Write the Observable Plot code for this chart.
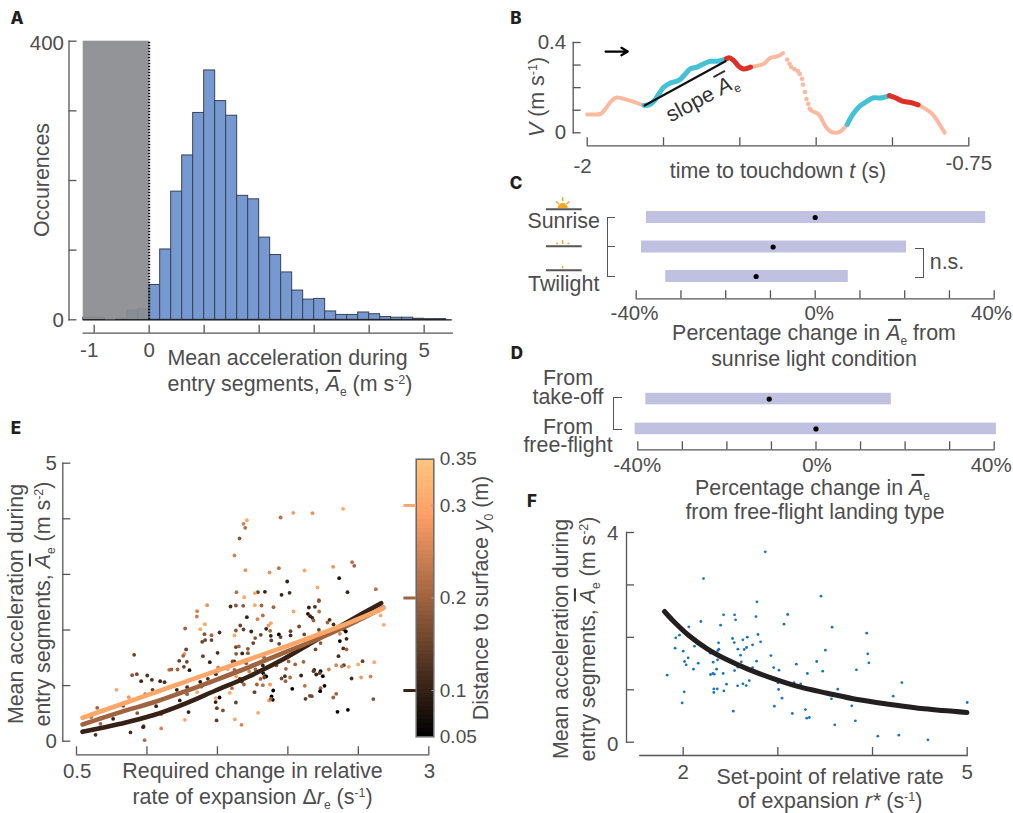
<!DOCTYPE html>
<html><head><meta charset="utf-8">
<script src="https://cdn.jsdelivr.net/npm/d3@7"></script>
<script src="https://cdn.jsdelivr.net/npm/@observablehq/plot@0.6"></script>
<style>
html,body{margin:0;padding:0;background:#fff}
#page{position:relative;width:1013px;height:813px;overflow:hidden;font-family:"Liberation Sans",Arial,sans-serif;color:#4d4d4d}
.l{position:absolute;white-space:nowrap;line-height:.85;font-size:21.4px;transform:translate(-50%,-50%)}
.p{position:absolute;font-family:Inter,sans-serif;font-weight:800;font-size:17px;color:#231f20;line-height:1;transform:translate(-50%,-50%)}
.ab{position:relative;font-style:italic}
.ab::before{content:"";position:absolute;left:2px;right:-1px;top:-2px;height:2px;background:#333}
sub{font-size:12px;line-height:0;vertical-align:-5px;font-style:normal}
sup{font-size:12.5px;line-height:0;vertical-align:7px}
.b{position:absolute;border:1.4px solid #555;box-sizing:border-box}
</style></head><body><div id="page"></div>
<script>
// ---------- Panel A ----------
const aBinStart=[-1.2,-1,-0.8,-0.6,-0.4,-0.2,0,0.2,0.4,0.6,0.8,1,1.2,1.4,1.6,1.8,2,2.2,2.4,2.6,2.8,3,3.2,3.4,3.6,3.8,4,4.2,4.4,4.6,4.8,5,5.2];
const aCounts=[3,3,0,1.5,13,15,50,101,184,236,297,358,314,293,178,173,118,93,68,42,29,30,12,7,7,10.5,8,4,3,3,1.5,1,1];
const aXTicks=[-1,0,1,2,3,4,5], aYTicks=[0,100,200,300,400];
const aXLabels=["-1","0","5"], aYLabels=["0","400"];
// ---------- Panel B ----------
const bSalmon1=[[-2,.081],[-1.978,.081],[-1.956,.084],[-1.94,.106],[-1.924,.136],[-1.907,.155],[-1.891,.154],[-1.869,.146],[-1.847,.137],[-1.814,.121]];
const bCyan1=[[-1.814,.121],[-1.798,.124],[-1.782,.139],[-1.765,.173],[-1.749,.202],[-1.727,.221],[-1.7,.232],[-1.678,.261],[-1.662,.283],[-1.64,.291],[-1.618,.306],[-1.596,.317],[-1.574,.317],[-1.544,.328]];
const bRed1=[[-1.544,.328],[-1.533,.332],[-1.52,.32],[-1.503,.294],[-1.487,.283],[-1.465,.291]];
const bSalmon2=[[-1.465,.291],[-1.443,.297],[-1.421,.306],[-1.4,.332],[-1.378,.338],[-1.358,.353]];
const bDots=[[-1.345,.325],[-1.337,.306],[-1.332,.291],[-1.321,.282],[-1.31,.273],[-1.304,.261],[-1.296,.239],[-1.293,.214],[-1.287,.181],[-1.282,.15],[-1.276,.128],[-1.271,.106]];
const bSalmon3=[[-1.271,.106],[-1.263,.096],[-1.247,.087],[-1.236,.072],[-1.227,.047],[-1.216,.022],[-1.203,.006],[-1.187,0],[-1.17,.007],[-1.148,.037]];
const bCyan2=[[-1.148,.037],[-1.132,.077],[-1.11,.114],[-1.088,.136],[-1.061,.155],[-1.039,.154],[-1.01,.165]];
const bRed2=[[-1.01,.165],[-.99,.155],[-.968,.14],[-.941,.134],[-.916,.124]];
const bSalmon4=[[-.916,.124],[-.892,.106],[-.87,.084],[-.854,.055],[-.837,.018],[-.829,0]];
const bSlope=[[-1.812,.121],[-1.547,.317]];
const bArrow=[{t1:-1.94,v1:.36,t2:-1.867,v2:.36}];
const bXTicks=[-2,-1.75,-1.5,-1.25,-1,-.75], bYTicks=[0,.1,.2,.3,.4];
const bXLabels=["-2","-0.75"], bYLabels=["0","0.4"];
// ---------- Panels C, D ----------
const cConds=["Sunrise","Mid","Twilight"], cLo=[-37.7,-38.8,-33.4], cHi=[38.1,20.4,7.4], cMean=[0,-9.4,-13.2];
const dConds=["From take-off","From free-flight"], dLo=[-38.2,-40.6], dHi=[16.9,40.5], dMean=[-10.5,0];
const pctTicks=[-40,-30,-20,-10,0,10,20,30,40], pctLabels=["-40%","0%","40%"];
// ---------- Panel E : [Δr, mean acceleration, y0] ----------
const eDots=[[1.427,2.447,.27],[1.356,2.339,.25],[1.354,2.243,.24],[1.411,2.105,.3],[1.378,2.015,.3],[1.271,2.027,.2],[1.408,1.925,.18],[1.458,1.907,.2],[1.413,1.818,.15],[1.392,1.788,.15],[1.458,1.818,.15],[1.515,1.955,.12],[1.278,1.65,.15],[1.501,1.59,.12],[.909,1.554,.15],[1.266,1.572,.28],[1.257,1.536,.2],[1.397,1.53,.15],[1.229,1.446,.14],[1.283,1.428,.15],[1.446,1.422,.1],[1.262,1.338,.15],[1.158,1.284,.22],[1.174,1.29,.2],[1.217,1.29,.2],[1.302,1.278,.08],[1.505,1.326,.25],[.895,1.188,.18],[.928,1.206,.16],[1.002,1.182,.13],[.959,1.08,.11],[1.035,1.104,.12],[1.094,1.08,.1],[1.125,1.062,.12],[1.489,1.206,.12],[1.432,1.122,.12],[1.378,1.068,.08],[.784,.924,.3],[1.285,.972,.12],[1.212,.924,.1],[1.04,.924,.14],[.987,.846,.22],[.871,.792,.28],[1.356,.882,.3],[1.387,.984,.14],[1.285,.846,.2],[1.487,.775,.3],[.647,.601,.2],[1.233,.733,.1],[1.487,.703,.1],[.831,.636,.15],[1.065,.63,.1],[1.496,.594,.14],[.931,.505,.18],[1.101,.487,.2],[1.295,.523,.1],[.604,.433,.22],[.76,.403,.1],[1.494,.373,.14],[1.269,.385,.3],[.67,.313,.2],[.976,.271,.16],[.973,.253,.1],[1.101,.229,.25],[.883,.157,.12],[.635,.115,.12],[.983,.019,.22],[.543,.175,.12],
[1.593,2.423,.12],[1.631,2.441,.18],[1.683,2.435,.18],[1.766,2.447,.3],[1.813,2.441,.2],[1.898,2.411,.2],[2.149,2.405,.1],[2.192,2.417,.12],[2.22,2.519,.2],[2.222,2.333,.22],[2.04,2.333,.3],[1.709,2.231,.1],[1.822,2.261,.22],[1.785,2.195,.25],[2.142,2.291,.08],[2.158,2.249,.1],[2.173,2.219,.1],[2.182,2.171,.2],[2.296,2.183,.12],[2.281,2.135,.2],[2.324,2.099,.12],[1.879,2.123,.3],[1.863,2.081,.28],[1.662,2.081,.15],[2.08,2.063,.16],[1.685,2.009,.15],[1.631,1.991,.18],[1.74,1.973,.1],[1.846,2.021,.1],[1.874,1.985,.2],[1.621,1.902,.3],[1.808,1.914,.15],[1.936,1.92,.05],[1.948,1.872,.15],[1.879,1.896,.1],[2.019,1.979,.15],[2.019,1.902,.12],[2.116,1.92,.16],[2.22,2.003,.15],[2.369,1.931,.25],[2.397,2.009,.12],[2.411,1.973,.05],[2.416,1.842,.1],[2.369,1.8,.05],[1.768,1.854,.18],[1.882,1.812,.14],[1.754,1.764,.15],[1.938,1.752,.15],[1.631,1.692,.15],[1.652,1.704,.2],[1.716,1.662,.18],[1.633,1.572,.18],[1.676,1.578,.1],[1.716,1.584,.18],[2.232,1.764,.18],[2.196,1.65,.16],[2.393,1.668,.12],[2.416,1.65,.2],[2.359,1.53,.12],[1.83,1.512,.2],[1.946,1.56,.2],[2.043,1.632,.22],[1.619,1.434,.1],[1.607,1.434,.16],[1.704,1.404,.18],[1.822,1.362,.1],[1.919,1.362,.18],[2.005,1.434,.2],[2.052,1.38,.2],[2.111,1.428,.2],[2.53,1.44,.15],[2.613,1.422,.3],[2.499,1.38,.3],[2.397,1.368,.14],[2.383,1.344,.22],[2.343,1.368,.25],[2.433,1.338,.3],[2.291,1.29,.25],[2.187,1.284,.1],[2.182,1.26,.14],[2.232,1.26,.05],[2.225,1.224,.15],[2.201,1.2,.1],[2.248,1.17,.05],[1.986,1.302,.2],[1.503,1.26,.3],[1.572,1.296,.3],[1.621,1.284,.2],[1.725,1.254,.25],[1.77,1.29,.2],[1.825,1.224,.08],[1.834,1.182,.18],[1.846,1.164,.05],[1.832,1.146,.15],[1.806,1.12,.2],[1.633,1.164,.3],[1.659,1.12,.12],[1.673,1.074,.12],[1.688,1.02,.2],[1.78,1.02,.2],[1.822,1.008,.22],[1.874,1.02,.28],[1.955,1.128,.16],[1.979,1.17,.12],[1.983,1.08,.2],[2.016,1.146,.22],[2.094,1.182,.1],[2.12,.996,.22],[2.52,1.146,.28],[2.587,1.164,.25],[2.452,1.128,.12],[2.26,.996,.05],[2.232,.954,.2],[2.229,.9,.05],[2.343,.852,.2],[2.322,.786,.2],[2.606,.757,.17],[2.031,.942,.02],[1.896,.912,.05],[1.884,.804,.02],[1.893,.744,.05],[1.867,.732,.28],[1.879,.762,.2],[2.125,.762,.14],[2.156,.816,.16],[2.17,.81,.16],[1.763,.882,.15],[1.603,.954,.22],[1.588,.87,.3],[1.631,.696,.15],[1.515,.786,.05],[1.539,.553,.17],[1.789,.511,.3],[2.352,.529,.04],[2.426,.565,.04],[1.624,.391,.3],[1.671,.295,.25],[2.658,2.261,.3],[2.681,2.093,.3],
[1.709,3.975,.3],[1.685,3.909,.25],[1.697,3.837,.22],[1.657,3.646,.18],[1.621,3.34,.25],[1.948,4.023,.22],[2.038,4.107,.28],[2.175,4.101,.27],[2.392,4.179,.3],[1.699,3.076,.27],[1.87,3.034,.27],[1.936,3.112,.22],[2.118,3.07,.3],[2.321,3.136,.27],[2.456,3.22,.22],[2.471,3.154,.2],[1.995,2.872,.1],[2.364,2.932,.08],[2.21,2.764,.3],[1.635,2.68,.22],[1.787,2.68,.15],[1.837,2.686,.1],[1.766,2.662,.3],[1.955,2.632,.1],[2.012,2.668,.12],[2.423,2.68,.1],[2.624,2.734,.22],[1.69,2.59,.3],[2.22,2.536,.18]];
const eFit01=[[.543,.169],[.812,.313],[1.049,.47],[1.285,.69],[1.487,.912],[1.723,1.164],[1.96,1.464],[2.196,1.812],[2.433,2.159],[2.662,2.483]];
const eFit02=[[.543,.301],[.812,.523],[1.049,.7],[1.285,.91],[1.487,1.1],[1.723,1.33],[1.96,1.58],[2.196,1.82],[2.433,2.09],[2.677,2.4]];
const eFit03=[[.543,.421],[.812,.66],[1.049,.87],[1.285,1.08],[1.487,1.26],[1.723,1.47],[1.96,1.68],[2.196,1.9],[2.433,2.13],[2.677,2.39]];
const eXTicks=[.5,1,1.5,2,2.5,3], eYTicks=[0,1,2,3,4,5], eXLabels=["0.5","3"], eYLabels=["0","5"];
const cbLabelVals=[.05,.1,.2,.3,.35], cbLabels=["0.05","0.1","0.2","0.3","0.35"], cbMarks=[.1,.2,.3];
const copperDomain=[.05,.29,.35], copperRange=["#000000","#ff9f65","#ffc77f"];
// ---------- Panel F ----------
const fDots=[[2.867,3.631],[2.215,3.122],[3.456,2.785],[2.779,2.677],[2.427,2.429],[2.543,2.429],[2.554,2.334],[2.769,2.397],[3.104,2.436],[2.187,2.302],[2.395,2.232],[3.065,2.251],[3.573,2.194],[2.06,2.2],[3.939,2.08],[1.961,2.041],[1.922,1.99],[2.79,2.054],[2.677,2.003],[2.522,1.978],[2.631,1.952],[2.54,1.901],[2.374,1.895],[2.818,1.914],[2.733,1.857],[2.12,1.831],[1.915,1.793],[2.67,1.806],[2.645,1.768],[2.578,1.774],[2.377,1.774],[3.502,1.755],[2,1.736],[2.286,1.698],[2.367,1.749],[3.95,1.685],[2.606,1.66],[2.927,1.653],[2.053,1.609],[2.363,1.571],[2.014,1.539],[2.317,1.526],[2.159,1.507],[2.614,1.533],[2.776,1.545],[3.41,1.539],[3.961,1.514],[2.032,1.475],[3.195,1.488],[2.578,1.431],[2.733,1.424],[2.956,1.424],[2.109,1.393],[2.353,1.393],[2.543,1.367],[3.012,1.374],[3.474,1.355],[3.83,1.38],[2.423,1.31],[3.312,1.31],[1.831,1.278],[2.289,1.291],[2.314,1.31],[2.328,1.297],[2.458,1.107],[2.698,1.176],[2.631,1.113],[2.666,1.081],[2.575,1.075],[3.001,1.132],[3.171,1.138],[3.241,1.113],[4.31,1.138],[2.324,1.017],[2.36,1.017],[3.633,1.011],[3.008,1.005],[2.43,.979],[2.011,.96],[2.324,.948],[4.218,.878],[3.044,.839],[3.566,.827],[5,.757],[1.989,.75],[2.963,.687],[3.781,.693],[3.291,.623],[2.529,.591],[3.153,.547],[3.333,.471],[3.305,.458],[3.819,.407],[3.601,.331],[4.056,.114],[4.278,.134],[4.585,.045]];
const fFit=[[1.803,2.493],[1.901,2.302],[2.06,2.035],[2.254,1.781],[2.465,1.571],[2.677,1.399],[2.959,1.208],[3.241,1.049],[3.523,.935],[3.841,.814],[4.193,.719],[4.546,.636],[4.997,.566]];
const fXTicks=[2,3,4,5], fYTicks=[0,1,2,3,4], fXLabels=["2","5"], fYLabels=["0","4"];

// ---------- helpers ----------
const page=document.getElementById("page");
const INK="#555", TXT="#4d4d4d", FONT="Liberation Sans, Arial, sans-serif";
const W=1013,H=813;
function panel({x,y,frame,xt,yt,xl=[],yl=[],marks,color,tick=8,lineInsetL=0,lineInsetB=0}){
  const [L,T,R,B]=frame;
  const m=[...marks];
  if(xt){
    m.push(Plot.frame({anchor:"bottom",stroke:INK,strokeWidth:1.3,insetLeft:lineInsetL}));
    m.push(Plot.axisX(xt,{anchor:"bottom",tickSize:-tick,tickFormat:()=>"",stroke:INK,strokeWidth:1.3,label:null}));
  }
  if(yt){
    m.push(Plot.frame({anchor:"left",stroke:INK,strokeWidth:1.3,insetBottom:lineInsetB}));
    m.push(Plot.axisY(yt,{anchor:"left",tickSize:-tick,tickFormat:()=>"",stroke:INK,strokeWidth:1.3,label:null}));
  }
  xl.forEach(d=>m.push(Plot.text([d.v],{x:v=>v,text:()=>d.t,frameAnchor:"bottom",dy:d.dy,dx:d.dx||0,fontSize:20.5,fill:TXT,lineAnchor:"middle"})));
  yl.forEach(d=>m.push(Plot.text([d.v],{y:v=>v,text:()=>d.t,frameAnchor:"left",dx:d.dx,dy:d.dy||0,fontSize:20.5,fill:TXT,textAnchor:"end",lineAnchor:"middle"})));
  const s=Plot.plot({width:W,height:H,marginLeft:L,marginTop:T,marginRight:W-R,marginBottom:H-B,
    x:{...x,axis:null,label:null},y:{...y,axis:null,label:null},color,
    style:{position:"absolute",left:0,top:0,background:"transparent",overflow:"visible",fontFamily:FONT,pointerEvents:"none",maxWidth:"none"},marks:m});
  page.appendChild(s);
}
function lab(html,cx,cy,rot=0,size=21.4,color){
  const d=document.createElement("div");d.className="l";d.innerHTML=html;
  d.style.left=cx+"px";d.style.top=cy+"px";d.style.fontSize=size+"px";
  if(rot)d.style.transform=`translate(-50%,-50%) rotate(${rot}deg)`;
  if(color)d.style.color=color;
  page.appendChild(d);
  return d;
}
function letter(t,x,y){const d=document.createElement("div");d.className="p";d.textContent=t;d.style.left=x+"px";d.style.top=y+"px";page.appendChild(d);}
function bracket(l,t,w,h,side){const d=document.createElement("div");d.className="b";
  d.style.cssText=`left:${l}px;top:${t}px;width:${w}px;height:${h}px;border-${side}:none`;page.appendChild(d);}
const AE='<span class="ab">A</span><sub>e</sub>';

// ---------- A ----------
panel({
  x:{domain:[-1.2,5.51],range:[82.7,451.7]},y:{domain:[0,400],range:[319.3,40.7]},
  frame:[68.5,40.7,451.7,332.7],xt:aXTicks,yt:aYTicks,lineInsetL:14.2,lineInsetB:13.4,
  xl:[{v:-1,t:aXLabels[0],dx:-5,dy:17},{v:0,t:aXLabels[1],dy:17},{v:5,t:aXLabels[2],dy:17}],
  yl:[{v:0,t:aYLabels[0],dx:-5,dy:1},{v:400,t:aYLabels[1],dx:-5,dy:2}],
  marks:[
    Plot.rectY(aCounts.map((c,i)=>({a:aBinStart[i],c})),{x1:"a",x2:d=>d.a+.2,y:"c",fill:"#7599d0",stroke:"#3b4252",strokeWidth:1}),
    Plot.rect([{x1:-1.2,x2:0,y1:0,y2:400}],{x1:"x1",x2:"x2",y1:"y1",y2:"y2",fill:"#8b8c90",fillOpacity:.93}),
    Plot.ruleX([0],{y1:0,y2:400,stroke:"#000",strokeWidth:2,strokeDasharray:"1.5,1.5"}),
    Plot.ruleY([0],{x1:-1.2,x2:5.51,stroke:"#111",strokeWidth:1.2})
  ]});
lab("Occurences",41.7,180,-90);
lab("Mean acceleration during",287.5,358);
lab('entry segments, '+AE+' (m s<sup>-2</sup>)',290,384);

// ---------- B ----------
const seg=(d,c,w)=>Plot.line(d,{x:p=>p[0],y:p=>p[1],stroke:c,strokeWidth:w,curve:"catmull-rom",strokeLinecap:"round"});
const SAL="#fbb9a0",CY="#45c1d6",RD="#dd3127";
panel({
  x:{domain:[-2,-.75],range:[586.7,968.3]},y:{domain:[0,.4],range:[132.3,42]},
  frame:[572.7,42,968.3,145.3],xt:bXTicks,yt:bYTicks,lineInsetL:14,lineInsetB:13,
  xl:[{v:-2,t:bXLabels[0],dx:-4.7,dy:20.7},{v:-.75,t:bXLabels[1],dy:18}],
  yl:[{v:0,t:bYLabels[0],dx:-7},{v:.4,t:bYLabels[1],dx:-7}],
  marks:[
    seg(bSalmon1,SAL,4),seg(bSalmon2,SAL,4),seg(bSalmon3,SAL,4),seg(bSalmon4,SAL,4),
    Plot.dot(bDots,{x:p=>p[0],y:p=>p[1],r:2.3,fill:SAL}),
    seg(bCyan1,CY,5),seg(bCyan2,CY,5),seg(bRed1,RD,5),seg(bRed2,RD,5),
    Plot.line(bSlope,{x:p=>p[0],y:p=>p[1],stroke:"#111",strokeWidth:2.2}),
    Plot.arrow(bArrow,{x1:"t1",y1:"v1",x2:"t2",y2:"v2",bend:0,headLength:8,stroke:"#000",strokeWidth:2.2})
  ]});
lab('<i>V</i> (m s<sup>-1</sup>)',537,97,-90);
lab('time to touchdown <i>t</i> (s)',778,171);
lab('slope '+AE,702,98,-28,21.4,"#333");

// ---------- C ----------
const rows=(names,lo,hi,mean)=>names.map((n,i)=>({n,lo:lo[i],hi:hi[i],m:mean[i]}));
panel({
  x:{domain:[-40,40],range:[635.7,993.7]},y:{type:"band",domain:cConds,range:[193.5,299.5],padding:.593,round:false},
  frame:[635.7,193.5,993.7,298.3],xt:pctTicks,
  xl:[{v:-40,t:pctLabels[0],dx:-1.7,dy:14.4},{v:0,t:pctLabels[1],dx:4,dy:14.4},{v:40,t:pctLabels[2],dx:-2.7,dy:14.4}],
  marks:[
    Plot.barX(rows(cConds,cLo,cHi,cMean),{x1:"lo",x2:"hi",y:"n",fill:"#c0c1e0"}),
    Plot.dot(rows(cConds,cLo,cHi,cMean),{x:"m",y:"n",r:2.6,fill:"#000"})
  ]});
lab("Sunrise",563.7,221);lab("Twilight",563.7,284);lab("n.s.",947,261.7);
lab('Percentage change in '+AE+' from',814,333);
lab('sunrise light condition',814,359);
bracket(606.7,217,8,59.5,"right");
(()=>{const d=document.createElement("div");d.style.cssText="position:absolute;left:606.7px;top:246px;width:8px;height:1.4px;background:#555";page.appendChild(d);})();
bracket(915,247.5,9,30,"left");
const icon=document.createElement("div");icon.style.cssText="position:absolute;left:0;top:0";
icon.innerHTML=`<svg width="1013" height="300" style="position:absolute;left:0;top:0;overflow:visible" fill="none">
<g stroke="#555" stroke-width="2"><path d="M546 209.3H581.7M546 246.3H581.7M546 270.3H581.7"/></g>
<path d="M557.7 208A5 5 0 0 1 567.7 208Z" fill="#f6a821"/>
<g stroke="#f6a821" stroke-width="1.4"><path d="M562.7 197V201M556 201.5L559 204M569.5 201.5L566.5 204M562.7 240V244M556 243.5H558M567.5 243.5H569.5M562.7 266V268.5"/></g></svg>`;
page.appendChild(icon);

// ---------- D ----------
panel({
  x:{domain:[-40,40],range:[637.3,993.7]},y:{type:"band",domain:dConds,range:[374.5,452.5],padding:.613,round:false},
  frame:[637.3,374,993.7,449.3],xt:pctTicks,
  xl:[{v:-40,t:pctLabels[0],dx:-.6,dy:15.3},{v:0,t:pctLabels[1],dx:1,dy:15.3},{v:40,t:pctLabels[2],dx:-3,dy:15.3}],
  marks:[
    Plot.barX(rows(dConds,dLo,dHi,dMean),{x1:"lo",x2:"hi",y:"n",fill:"#c0c1e0"}),
    Plot.dot(rows(dConds,dLo,dHi,dMean),{x:"m",y:"n",r:2.6,fill:"#000"})
  ]});
lab("From<br>take-off",568,388).style.cssText+=";text-align:center;line-height:18.6px";
lab("From<br>free-flight",568,436.7).style.cssText+=";text-align:center;line-height:18.6px";
lab('Percentage change in '+AE,812.5,488);
lab('from free-flight landing type',815,512);
bracket(613,397,9,32.5,"right");

// ---------- E ----------
const copper={type:"linear",domain:copperDomain,range:copperRange,interpolate:"rgb",legend:false};
const fitE=(d,v)=>Plot.line(d,{x:p=>p[0],y:p=>p[1],stroke:()=>v,strokeWidth:4.6,curve:"catmull-rom"});
panel({
  x:{domain:[.5,3],range:[76,428.3]},y:{domain:[0,5],range:[740.7,462.7]},color:copper,
  frame:[62.3,462.7,428.3,754.3],xt:eXTicks,yt:eYTicks,lineInsetL:13.7,lineInsetB:13.6,
  xl:[{v:.5,t:eXLabels[0],dx:.7,dy:16.7},{v:3,t:eXLabels[1],dx:.7,dy:16.7}],
  yl:[{v:0,t:eYLabels[0],dx:-6},{v:5,t:eYLabels[1],dx:-6}],
  marks:[
    Plot.dot(eDots,{x:d=>d[0],y:d=>d[1],fill:d=>d[2],r:1.9}),
    fitE(eFit01,.1),fitE(eFit02,.2),fitE(eFit03,.3)
  ]});
lab("Mean acceleration during",16,604,-90);
lab('entry segments, '+AE+' (m s<sup>-2</sup>)',42.7,604,-90);
lab("Required change in relative",252.5,771);
lab('rate of expansion Δ<i>r</i><sub>e</sub> (s<sup>-1</sup>)',252.5,797);
// colour bar
const cbLevels=d3.range(64).map(i=>.05+i*.3/64);
panel({
  x:{domain:[0,1],range:[415.7,433.3]},y:{domain:[.05,.35],range:[736.3,458.7]},color:copper,
  frame:[415.7,458.7,433.3,736.3],
  marks:[
    Plot.rect(cbLevels,{x1:0,x2:1,y1:d=>d,y2:d=>d+.3/64,fill:d=>d+.15/64,shapeRendering:"crispEdges"}),
    Plot.frame({stroke:"#666",strokeWidth:1.5}),
    Plot.axisY(cbMarks,{anchor:"right",tickSize:-3,tickFormat:()=>"",stroke:"#999",label:null}),
    Plot.ruleY(cbMarks,{y:d=>d,x1:-.7,x2:0,stroke:d=>d,strokeWidth:3}),
    Plot.text(cbLabelVals,{y:d=>d,text:(d,i)=>cbLabels[i],frameAnchor:"right",dx:6,textAnchor:"start",fontSize:19,fill:TXT,lineAnchor:"middle"})
  ]});
lab('Distance to surface <i>y</i><sub>0</sub> (m)',480.7,597.5,-90);

// ---------- F ----------
panel({
  x:{domain:[1.542,5],range:[639.3,966.7]},y:{domain:[0,4],range:[741.7,532]},
  frame:[626,532,966.7,755],xt:fXTicks,yt:fYTicks,lineInsetL:13.3,lineInsetB:13.3,
  xl:[{v:2,t:fXLabels[0],dy:16.7},{v:5,t:fXLabels[1],dy:16.7}],
  yl:[{v:0,t:fYLabels[0],dx:-8,dy:2.3},{v:4,t:fYLabels[1],dx:-8,dy:1}],
  marks:[
    Plot.dot(fDots,{x:d=>d[0],y:d=>d[1],r:1.4,fill:"#1a75c0"}),
    Plot.line(fFit,{x:p=>p[0],y:p=>p[1],stroke:"#231f20",strokeWidth:5,curve:"catmull-rom"})
  ]});
lab("Mean acceleration during",560.7,638.5,-90);
lab('entry segments, '+AE+' (m s<sup>-2</sup>)',588,638.5,-90);
lab("Set-point of relative rate",830,776.7);
lab('of expansion <i>r*</i> (s<sup>-1</sup>)',830,800.5);

letter("A",17,18);letter("B",516,18);letter("C",516,183);letter("D",517,352.7);letter("E",16,428);letter("F",532,501);
</script></body></html>
